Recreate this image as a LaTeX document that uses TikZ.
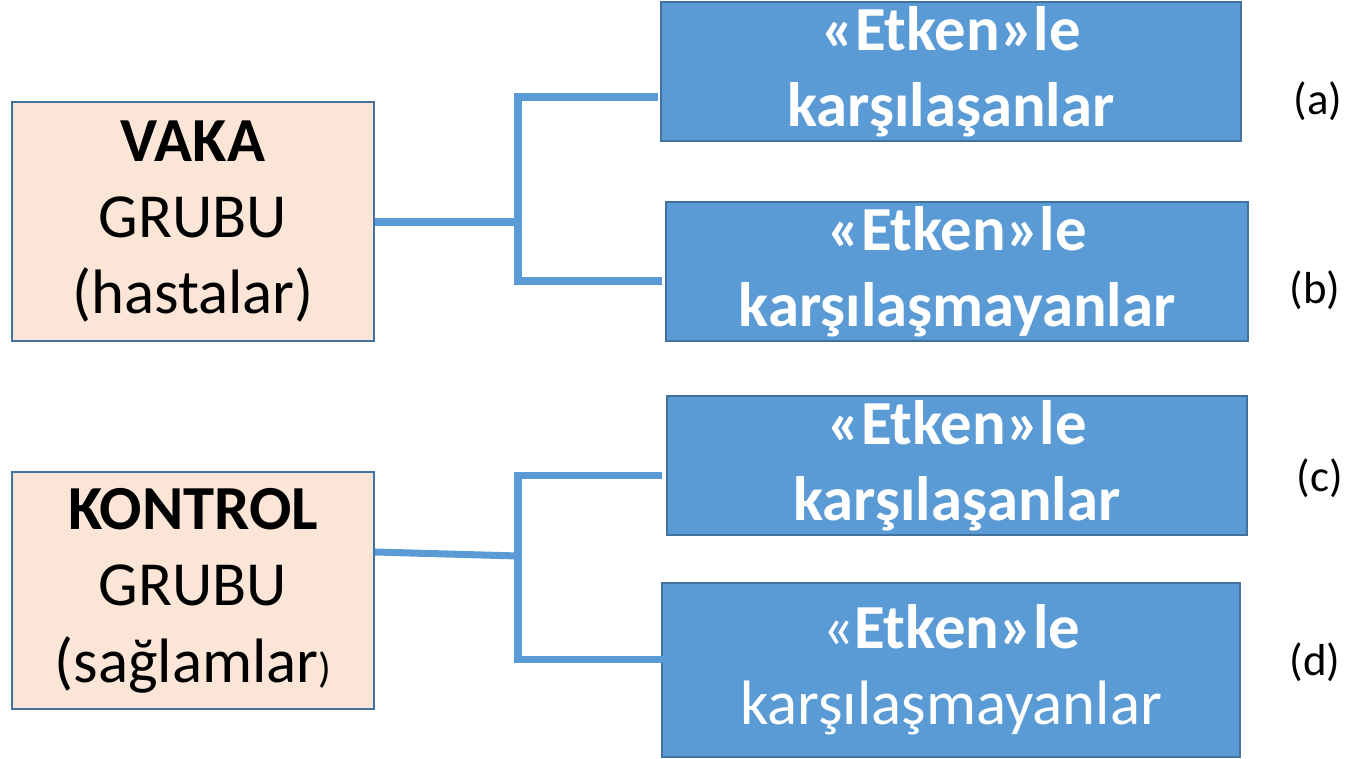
\documentclass[tikz,border=0pt]{standalone}
\usepackage{fontspec}
\setmainfont{Carlito}
\usepackage{tikz}
\usetikzlibrary{positioning}
\definecolor{peach}{HTML}{FBE5D6}
\definecolor{accent}{HTML}{5B9BD5}
\definecolor{accentdark}{HTML}{41719C}
\tikzstyle{group}=[
	rectangle,
	draw=accentdark,
	line width=1.1pt,
	fill=peach,
	inner sep=0pt,
	align=center,
	minimum width=7.24cm,
	font=\fontsize{35.7}{43.5}\selectfont
]
\tikzstyle{exposure}=[
	rectangle,
	draw=accentdark,
	line width=1.2pt,
	fill=accent,
	text=white,
	inner sep=0pt,
	align=center,
	minimum height=2.78cm,
	font=\fontsize{35.7}{43.5}\selectfont
]
\tikzstyle{tag}=[
	inner sep=0pt,
	font=\fontsize{25.5}{30}\selectfont
]
\tikzstyle{link}=[
	draw=accent,
	line width=4pt
]

\begin{document}
\begin{tikzpicture}[x=0.02cm,y=-0.02cm]
\useasboundingbox (0,0) rectangle (1352,759);
% gruplar
\node [group, minimum height=4.78cm] (VakaGrubu) at (193,221.5) {\textbf{VAKA}\\GRUBU\\(hastalar)};
\node [group, minimum height=4.74cm] (KontrolGrubu) at (193,590.5) {\textbf{KONTROL}\\GRUBU\\(sağlamlar{\fontsize{24}{29}\selectfont)}};
% etkenle karsilasma
\node [exposure, minimum width=11.6cm] (VakaEtkenli) at (951,71.5) {\textbf{«Etken»le}\\\textbf{karşılaşanlar}};
\node [exposure, minimum width=11.64cm] (VakaEtkensiz) at (957,271.5) {\textbf{«Etken»le}\\\textbf{karşılaşmayanlar}};
\node [exposure, minimum width=11.6cm] (KontrolEtkenli) at (957,465.5) {\textbf{«Etken»le}\\\textbf{karşılaşanlar}};
\node [exposure, minimum width=11.56cm, minimum height=3.48cm] (KontrolEtkensiz) at (951,670) {«\textbf{Etken»le}\\karşılaşmayanlar};
% etiketler
\node [tag] (EtiketA) at (1318,101) {(a)};
\node [tag] (EtiketB) at (1315,290) {(b)};
\node [tag] (EtiketC) at (1320,478) {(c)};
\node [tag] (EtiketD) at (1315,662) {(d)};
% baglantilar
\coordinate (VakaKol) at (518,222);
\coordinate (VakaUst) at (658,97);
\coordinate (VakaAlt) at (662,281);
\coordinate (KontrolCikis) at (374,552);
\coordinate (KontrolKol) at (518,556);
\coordinate (KontrolUst) at (662,475.5);
\coordinate (KontrolAlt) at (663,659.5);
\draw [link] (VakaGrubu.east |- VakaKol) -- (VakaKol);
\draw [link] (VakaUst) -- (VakaKol |- VakaUst) -- (VakaKol |- VakaAlt) -- (VakaAlt);
\draw [link] (KontrolGrubu.east |- KontrolCikis) -- (KontrolKol);
\draw [link] (KontrolUst) -- (KontrolKol |- KontrolUst) -- (KontrolKol |- KontrolAlt) -- (KontrolAlt);
\end{tikzpicture}
\end{document}
